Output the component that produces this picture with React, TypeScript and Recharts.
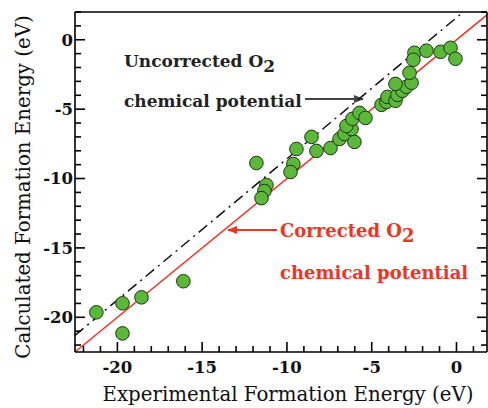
import { ScatterChart, Scatter, XAxis, YAxis, ReferenceLine, Customized } from "recharts";

// experimental vs calculated formation energies (eV)
const expEnergy = [
	-21.24, -19.7, -19.7, -18.58, -16.11, -11.8, -11.21, -11.33, -11.5, -9.44, -9.62, -9.79,
	-8.55, -8.26, -7.43, -6.9, -6.61, -6.02, -6.19, -6.49, -6.14, -5.72, -5.37, -4.42, -4.13,
	-4.07, -3.6, -3.48, -3.19, -2.95, -3.6, -2.65, -2.77, -2.48, -2.54, -1.77, -0.94, -0.35, -0.06,
];
const calcEnergy = [
	-19.64, -18.99, -21.16, -18.56, -17.4, -8.88, -10.47, -10.9, -11.41, -7.87, -8.95, -9.53,
	-7.0, -8.01, -7.8, -7.15, -6.79, -7.36, -6.43, -6.21, -5.7, -5.27, -5.63, -4.69, -4.48,
	-4.12, -4.4, -3.97, -3.68, -3.39, -3.18, -3.1, -2.38, -0.94, -1.44, -0.79, -0.87, -0.58, -1.37,
];

const correctedFit = [
	{ x: -22.5, y: -22.5 },
	{ x: 1.8, y: 1.8 },
];
const uncorrectedFit = [
	{ x: -22.5, y: -21.3 },
	{ x: 0.4, y: 2.0 },
];

const xTicks = [-22, -21, -20, -19, -18, -17, -16, -15, -14, -13, -12, -11, -10, -9, -8, -7, -6, -5, -4, -3, -2, -1, 0, 1];
const yTicks = [-22, -21, -20, -19, -18, -17, -16, -15, -14, -13, -12, -11, -10, -9, -8, -7, -6, -5, -4, -3, -2, -1, 0, 1, 2];

const points = expEnergy.map((x, i) => ({ x, y: calcEnergy[i] }));

const RED = "#ee3524";
const tickFont = { fontFamily: "DejaVu Serif", fontWeight: 700, fontSize: 16.5, fill: "#111" };

const isMajor = (v: number) => v % 5 === 0;

function BottomTick({ x, y, payload }: any) {
	const major = isMajor(payload.value);
	return (
		<g>
			<line x1={x} x2={x} y1={y} y2={y - (major ? 10 : 6)} stroke="#000" strokeWidth={1.6} />
			{major && (
				<text x={x} y={y + 21} textAnchor="middle" {...tickFont}>
					{payload.value}
				</text>
			)}
		</g>
	);
}

function TopTick({ x, y, payload }: any) {
	const major = isMajor(payload.value);
	return <line x1={x} x2={x} y1={y} y2={y + (major ? 10 : 6)} stroke="#000" strokeWidth={1.6} />;
}

function LeftTick({ x, y, payload }: any) {
	const major = isMajor(payload.value);
	return (
		<g>
			<line x1={x} x2={x + (major ? 10 : 6)} y1={y} y2={y} stroke="#000" strokeWidth={1.6} />
			{major && (
				<text x={x - 2} y={y} dy="0.36em" textAnchor="end" {...tickFont}>
					{payload.value}
				</text>
			)}
		</g>
	);
}

function RightTick({ x, y, payload }: any) {
	const major = isMajor(payload.value);
	return <line x1={x} x2={x - (major ? 10 : 6)} y1={y} y2={y} stroke="#000" strokeWidth={1.6} />;
}

function Dot({ cx, cy }: any) {
	return <circle cx={cx} cy={cy} r={6.8} fill="#5cb83b" stroke="#1c3510" strokeWidth={1} />;
}

function Annotations() {
	const serif = "DejaVu Serif";
	return (
		<g>
			<defs>
				<marker id="headGray" markerWidth="10" markerHeight="8" refX="9" refY="4" orient="auto" markerUnits="userSpaceOnUse">
					<path d="M0,0 L10,4 L0,8 z" fill="#444" />
				</marker>
				<marker id="headRed" markerWidth="10" markerHeight="8" refX="9" refY="4" orient="auto" markerUnits="userSpaceOnUse">
					<path d="M0,0 L10,4 L0,8 z" fill={RED} />
				</marker>
			</defs>
			<text x={124} y={67} fontFamily={serif} fontWeight={700} fontSize={17} fill="#222">
				Uncorrected O<tspan dy={5}>2</tspan>
			</text>
			<text x={124} y={107} fontFamily={serif} fontWeight={700} fontSize={17} fill="#222">
				chemical potential
			</text>
			<line x1={305} y1={99} x2={363} y2={99} stroke="#444" strokeWidth={2} markerEnd="url(#headGray)" />

			<text x={280} y={237} fontFamily={serif} fontWeight={700} fontSize={18} fill={RED}>
				Corrected O<tspan dy={5}>2</tspan>
			</text>
			<text x={280} y={279} fontFamily={serif} fontWeight={700} fontSize={18} fill={RED}>
				chemical potential
			</text>
			<line x1={277} y1={230} x2={228} y2={230} stroke={RED} strokeWidth={2} markerEnd="url(#headRed)" />

			<text x={288} y={401} textAnchor="middle" fontFamily={serif} fontSize={19.8} fill="#111">
				Experimental Formation Energy (eV)
			</text>
			<text
				x={23}
				y={187}
				textAnchor="middle"
				dominantBaseline="central"
				transform="rotate(-90, 23, 187)"
				fontFamily={serif}
				fontSize={19.8}
				fill="#111"
			>
				Calculated Formation Energy (eV)
			</text>
		</g>
	);
}

export default function App() {
	const axisLine = { stroke: "#000", strokeWidth: 1.6 };
	return (
		<div style={{ position: "absolute", left: 0, top: 0, background: "#fff" }}>
			<ScatterChart width={488} height={408} margin={{ top: 0, right: 0, bottom: 0, left: 0 }}>
				<XAxis
					xAxisId="b"
					type="number"
					dataKey="x"
					domain={[-22.5, 1.8]}
					allowDataOverflow
					ticks={xTicks}
					interval={0}
					tickSize={0}
					tickMargin={0}
					tickLine={false}
					tick={<BottomTick />}
					axisLine={axisLine}
					height={56}
				/>
				<XAxis
					xAxisId="t"
					orientation="top"
					type="number"
					domain={[-22.5, 1.8]}
					allowDataOverflow
					ticks={xTicks}
					interval={0}
					tickSize={0}
					tickMargin={0}
					tickLine={false}
					tick={<TopTick />}
					axisLine={axisLine}
					height={12}
				/>
				<YAxis
					yAxisId="l"
					type="number"
					dataKey="y"
					domain={[-22.5, 2]}
					allowDataOverflow
					ticks={yTicks}
					interval={0}
					tickSize={0}
					tickMargin={0}
					tickLine={false}
					tick={<LeftTick />}
					axisLine={axisLine}
					width={75}
				/>
				<YAxis
					yAxisId="r"
					orientation="right"
					type="number"
					domain={[-22.5, 2]}
					allowDataOverflow
					ticks={yTicks}
					interval={0}
					tickSize={0}
					tickMargin={0}
					tickLine={false}
					tick={<RightTick />}
					axisLine={axisLine}
					width={1}
				/>
				<Scatter xAxisId="b" yAxisId="l" data={points} shape={<Dot />} isAnimationActive={false} />
				<ReferenceLine
					xAxisId="b"
					yAxisId="l"
					segment={uncorrectedFit}
					stroke="#111"
					strokeWidth={1.5}
					strokeDasharray="11 5 2 5"
					ifOverflow="visible"
				/>
				<ReferenceLine xAxisId="b" yAxisId="l" segment={correctedFit} stroke={RED} strokeWidth={1.6} ifOverflow="visible" />
				<Customized component={<Annotations />} />
			</ScatterChart>
		</div>
	);
}
